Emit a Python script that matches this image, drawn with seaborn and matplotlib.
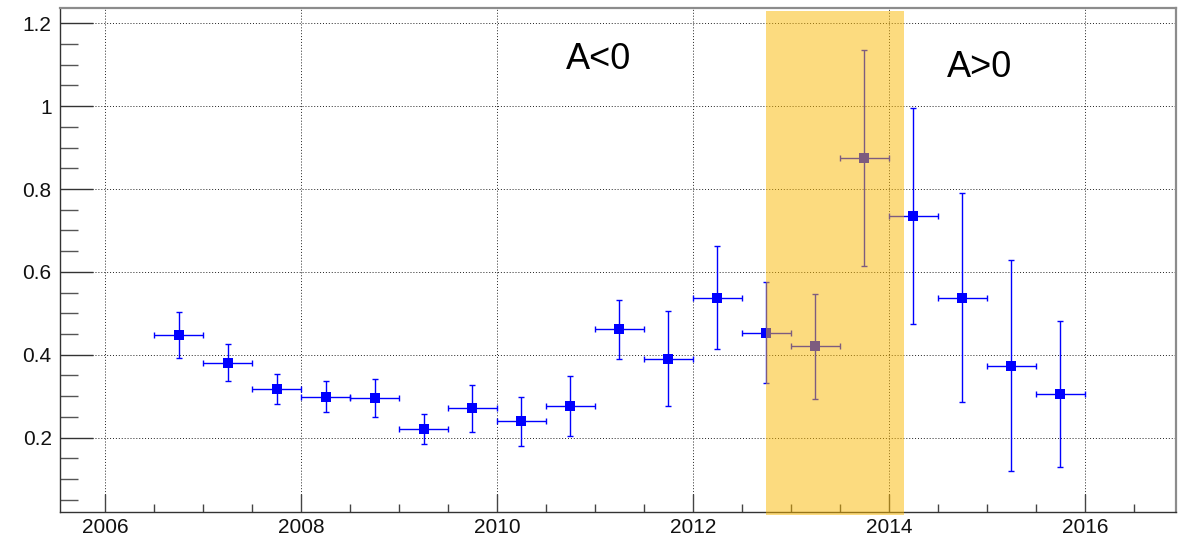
import matplotlib
matplotlib.use("Agg")
import matplotlib.pyplot as plt
from matplotlib.ticker import MultipleLocator
import seaborn as sns
import pandas as pd

# ---- data ----
year = [2006.75, 2007.25, 2007.75, 2008.25, 2008.75, 2009.25, 2009.75, 2010.25,
        2010.75, 2011.25, 2011.75, 2012.25, 2012.75, 2013.25, 2013.75, 2014.25,
        2014.75, 2015.25, 2015.75]
value = [0.448, 0.381, 0.318, 0.299, 0.296, 0.220, 0.271, 0.239, 0.276, 0.461,
         0.391, 0.538, 0.453, 0.420, 0.875, 0.735, 0.538, 0.374, 0.306]
err_y = [0.056, 0.044, 0.036, 0.037, 0.046, 0.036, 0.057, 0.059, 0.072, 0.072,
         0.115, 0.124, 0.122, 0.126, 0.260, 0.260, 0.253, 0.254, 0.176]
err_x = [0.25] * len(year)
band_start, band_end = 2012.75, 2014.15
labels = ["A<0", "A>0"]

df = pd.DataFrame({"year": year, "value": value})

sns.set_theme(style="white")
plt.rcParams["font.family"] = ["Liberation Sans", "DejaVu Sans"]

fig = plt.figure(figsize=(11.79, 5.35), dpi=100)
ax = fig.add_axes([60 / 1179, 1 - 512 / 535, 1116 / 1179, 504 / 535])

ax.set_xlim(2005.54, 2016.93)
ax.set_ylim(0.0205, 1.237)

# grid
ax.grid(True, which="major", linestyle=(0, (1, 2)), color="#222222", linewidth=0.7)
ax.set_axisbelow(True)

# error bars + markers
ax.errorbar(year, value, yerr=err_y, xerr=err_x, fmt="none", ecolor=(0, 0, 1),
            elinewidth=1.0, capsize=2.5, capthick=1.0, zorder=3)
sns.scatterplot(data=df, x="year", y="value", marker="s", s=42, color=(0, 0, 1),
                edgecolor=(0, 0, 1), linewidth=0, ax=ax, zorder=4)

# shaded band
ax.fill_between([band_start, band_end], 0.013, 1.23, color=(251 / 255, 184 / 255, 0),
                alpha=0.5, linewidth=0, zorder=5, clip_on=False)

# annotations
ax.text(2011.04, 1.112, labels[0], fontsize=26, color="black",
        ha="center", va="center", zorder=6)
ax.text(2014.92, 1.093, labels[1], fontsize=26, color="black",
        ha="center", va="center", zorder=6)

# ticks
ax.xaxis.set_minor_locator(MultipleLocator(0.5))
ax.yaxis.set_minor_locator(MultipleLocator(0.05))
ax.set_yticks([0.2, 0.4, 0.6, 0.8, 1.0, 1.2])
ax.set_yticklabels(["0.2", "0.4", "0.6", "0.8", "1", "1.2"])
ax.set_xticks([2006, 2008, 2010, 2012, 2014, 2016])
ax.set_xticklabels(["2006", "2008", "2010", "2012", "2014", "2016"])

ax.tick_params(axis="x", which="major", direction="in", length=13, width=1.0,
               color="#444444", labelsize=15, pad=4, bottom=True, top=False)
ax.tick_params(axis="x", which="minor", direction="in", length=6, width=1.0,
               color="#444444", bottom=True, top=False)
ax.tick_params(axis="y", which="major", direction="in", length=24, width=1.0,
               color="#333333", labelsize=15, pad=6, left=True, right=False)
ax.tick_params(axis="y", which="minor", direction="in", length=13, width=1.0,
               color="#555555", left=True, right=False)
for lab in ax.get_xticklabels() + ax.get_yticklabels():
    lab.set_color("#111111")

ax.set_xlabel("")
ax.set_ylabel("")

for side in ["left", "bottom"]:
    ax.spines[side].set_color("#333333")
    ax.spines[side].set_linewidth(1.0)
for side in ["top", "right"]:
    ax.spines[side].set_color("#8c8c8c")
    ax.spines[side].set_linewidth(1.6)

fig.savefig("out.png", dpi=100, facecolor="white")
